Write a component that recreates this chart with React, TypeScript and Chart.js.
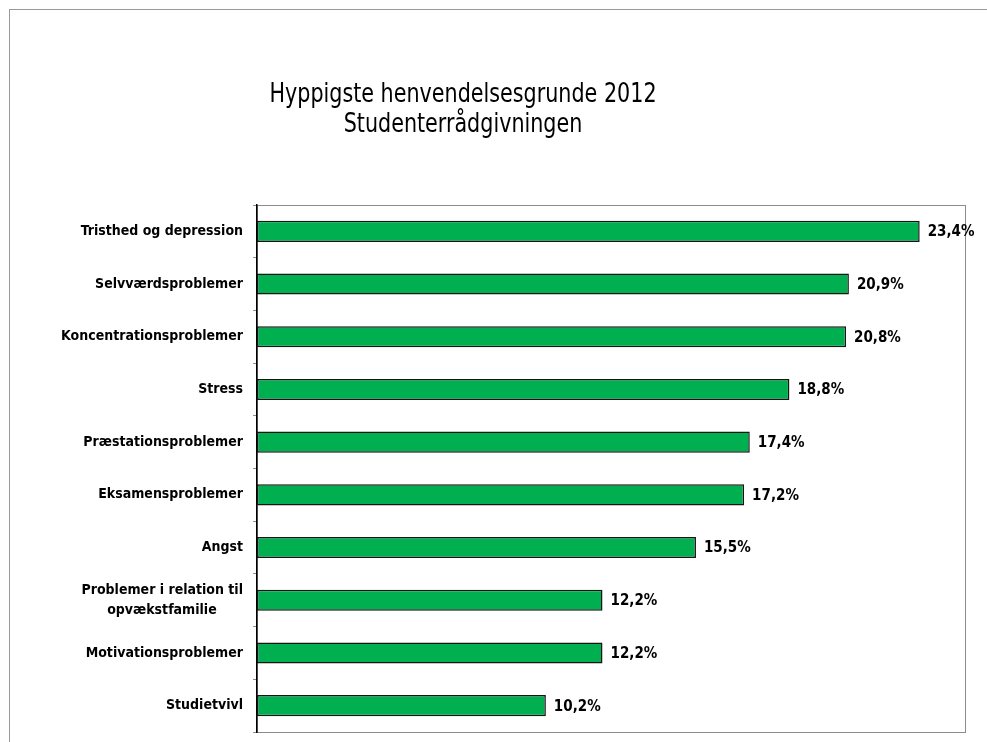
import React, { useEffect, useRef } from "react";
import { Chart, registerables } from "chart.js";

Chart.register(...registerables);

const titleLines = ["Hyppigste henvendelsesgrunde 2012", "Studenterrådgivningen"];
const categories: (string | string[])[] = [
  "Tristhed og depression",
  "Selvværdsproblemer",
  "Koncentrationsproblemer",
  "Stress",
  "Præstationsproblemer",
  "Eksamensproblemer",
  "Angst",
  ["Problemer i relation til", "opvækstfamilie"],
  "Motivationsproblemer",
  "Studietvivl",
];
const values = [23.4, 20.9, 20.8, 18.8, 17.4, 17.2, 15.5, 12.2, 12.2, 10.2];
const axisMin = 0;
const axisMax = 25;

const FONT = "'DejaVu Sans Condensed', 'DejaVu Sans', sans-serif";

const frameAndTitlePlugin = {
  id: "frameAndTitle",
  beforeDraw(chart: any) {
    const { ctx, chartArea } = chart;
    ctx.save();
    ctx.strokeStyle = "#8c8c8c";
    ctx.lineWidth = 1;
    ctx.strokeRect(
      Math.round(chartArea.left) + 0.5,
      Math.round(chartArea.top) + 0.5,
      Math.round(chartArea.right - chartArea.left),
      Math.round(chartArea.bottom - chartArea.top)
    );
    ctx.fillStyle = "#000";
    ctx.font = `normal 23px ${FONT}`;
    ctx.textAlign = "center";
    ctx.textBaseline = "alphabetic";
    const cx = 453;
    const baselines = [92, 122];
    titleLines.forEach((t, i) => {
      ctx.save();
      ctx.translate(cx, baselines[i]);
      ctx.scale(1, 1.12);
      ctx.fillText(t, 0, 0);
      ctx.restore();
    });
    ctx.restore();
  },
  afterDatasetsDraw(chart: any) {
    const { ctx } = chart;
    const meta = chart.getDatasetMeta(0);
    ctx.save();
    ctx.fillStyle = "#000";
    ctx.font = `bold 15px ${FONT}`;
    ctx.textAlign = "left";
    ctx.textBaseline = "middle";
    meta.data.forEach((el: any, i: number) => {
      const v = chart.data.datasets[0].data[i] as number;
      ctx.fillText(v.toFixed(1).replace(".", ",") + "%", el.x + 8, el.y + 1);
    });
    ctx.restore();
  },
};

export default function App() {
  const ref = useRef<HTMLCanvasElement | null>(null);
  useEffect(() => {
    if (!ref.current) return;
    const chart = new Chart(ref.current, {
      type: "bar",
      data: {
        labels: categories as any,
        datasets: [
          {
            data: values,
            backgroundColor: "#00b050",
            borderColor: "#151515",
            borderWidth: 1.5,
            borderSkipped: false,
            categoryPercentage: 1,
            barPercentage: 0.4,
          },
        ],
      },
      options: {
        indexAxis: "y",
        animation: false,
        responsive: false,
        maintainAspectRatio: false,
        layout: { padding: { top: 195, right: 22, bottom: 10, left: 0 } },
        plugins: {
          legend: { display: false },
          title: { display: false },
          tooltip: { enabled: false },
        },
        scales: {
          x: {
            min: axisMin,
            max: axisMax,
            grid: { display: false },
            ticks: { display: false },
            border: { display: true, color: "#8c8c8c", width: 1 },
            afterFit: (scale: any) => {
              scale.height = 0;
            },
          },
          y: {
            grid: {
              display: true,
              offset: true,
              drawOnChartArea: false,
              drawTicks: true,
              tickLength: 4,
              color: "#8c8c8c",
            },
            border: { display: true, color: "#000", width: 1.5 },
            ticks: {
              color: "#000",
              padding: 10,
              font: { family: FONT, size: 14, weight: "bold", lineHeight: 1.4 },
              callback: function (this: any, _v: any, index: number) {
                const lab = categories[index];
                if (Array.isArray(lab)) {
                  return [lab[0], lab[1] + "      "];
                }
                return lab;
              },
            },
            afterFit: (scale: any) => {
              scale.width = 247;
              scale.paddingTop = 0;
              scale.paddingBottom = 0;
            },
          },
        },
      } as any,
      plugins: [frameAndTitlePlugin],
    });
    return () => chart.destroy();
  }, []);
  return (
    <div
      style={{
        position: "absolute",
        left: 9,
        top: 9,
        width: 978,
        height: 733,
        borderTop: "1px solid #999",
        borderLeft: "1px solid #999",
        background: "#fff",
      }}
    >
      <canvas ref={ref} width={977} height={732} style={{ display: "block" }} />
    </div>
  );
}
